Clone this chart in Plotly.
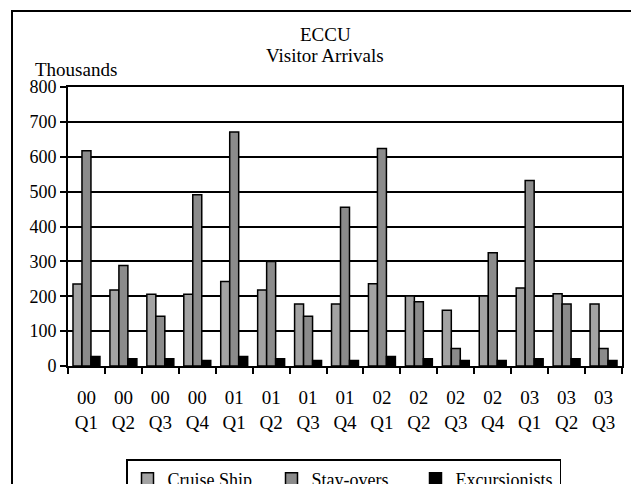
import plotly.graph_objects as go

# Quarterly visitor arrivals in the ECCU (thousands)
quarters = ["00<br>Q1", "00<br>Q2", "00<br>Q3", "00<br>Q4",
            "01<br>Q1", "01<br>Q2", "01<br>Q3", "01<br>Q4",
            "02<br>Q1", "02<br>Q2", "02<br>Q3", "02<br>Q4",
            "03<br>Q1", "03<br>Q2", "03<br>Q3"]
cruise_ship = [235, 218, 206, 206, 242, 218, 178, 178, 236, 201, 160, 201, 224, 207, 178]
stay_overs = [617, 288, 143, 491, 671, 300, 143, 455, 624, 184, 50, 325, 532, 178, 50]
excursionists = [27, 21, 21, 16, 27, 21, 16, 16, 27, 21, 16, 16, 21, 21, 16]
y_ticks = [0, 100, 200, 300, 400, 500, 600, 700, 800]

FONT = "Liberation Serif"
W, H = 631, 484
ML, MR, MT, MB = 68, 9, 87, 118
PW, PH = W - ML - MR, H - MT - MB


def px_x(x):
    return (x - ML) / PW


def px_y(y):
    return (H - MB - y) / PH


fig = go.Figure()
for name, vals, color in [("Cruise Ship", cruise_ship, "#a3a3a3"),
                          ("Stay-overs", stay_overs, "#8b8b8b"),
                          ("Excursionists", excursionists, "#000000")]:
    fig.add_trace(go.Bar(x=quarters, y=vals, name=name,
                         marker=dict(color=color, line=dict(color="black", width=1.5))))

fig.update_layout(
    width=W, height=H,
    margin=dict(l=ML, r=MR, t=MT, b=MB, autoexpand=False),
    paper_bgcolor="white", plot_bgcolor="white",
    barmode="group", bargap=0.27, bargroupgap=0,
    font=dict(family=FONT, size=19, color="black"),
    showlegend=True,
    legend=dict(orientation="h", x=px_x(126), xanchor="left",
                y=px_y(459), yanchor="top",
                bordercolor="black", borderwidth=1.5, bgcolor="white",
                font=dict(family=FONT, size=18, color="black"),
                itemwidth=30,
                entrywidth=99, entrywidthmode="pixels",
                traceorder="normal"),
)

fig.update_yaxes(range=[0, 800], tickvals=y_ticks, ticktext=[str(v) for v in y_ticks],
                 showgrid=True, gridcolor="black", gridwidth=1.5,
                 showline=True, linecolor="black", linewidth=2, mirror=True,
                 ticks="outside", ticklen=6, tickcolor="black", tickwidth=1.5,
                 zeroline=False, tickfont=dict(family=FONT, size=18, color="black"))
fig.update_xaxes(showline=True, linecolor="black", linewidth=2, mirror=True,
                 ticks="outside", ticklen=6, tickcolor="black", tickwidth=1.5,
                 tickson="boundaries", showgrid=False, tickangle=0,
                 ticklabelstandoff=13,
                 tickfont=dict(family=FONT, size=19, color="black"))

# Title lines and unit label
fig.add_annotation(text="ECCU", x=px_x(325), y=px_y(34), xref="paper", yref="paper",
                   xanchor="center", yanchor="middle", showarrow=False,
                   font=dict(family=FONT, size=19, color="black"))
fig.add_annotation(text="Visitor Arrivals", x=px_x(325), y=px_y(55), xref="paper", yref="paper",
                   xanchor="center", yanchor="middle", showarrow=False,
                   font=dict(family=FONT, size=19, color="black"))
fig.add_annotation(text="Thousands", x=px_x(33), y=px_y(69), xref="paper", yref="paper",
                   xanchor="left", yanchor="middle", showarrow=False,
                   font=dict(family=FONT, size=19, color="black"))

# Chart frame
fig.add_shape(type="rect", xref="paper", yref="paper",
              x0=px_x(12), x1=px_x(645), y0=px_y(500), y1=px_y(11),
              line=dict(color="black", width=2), fillcolor="rgba(0,0,0,0)", layer="below")

fig.write_html("out.html")
